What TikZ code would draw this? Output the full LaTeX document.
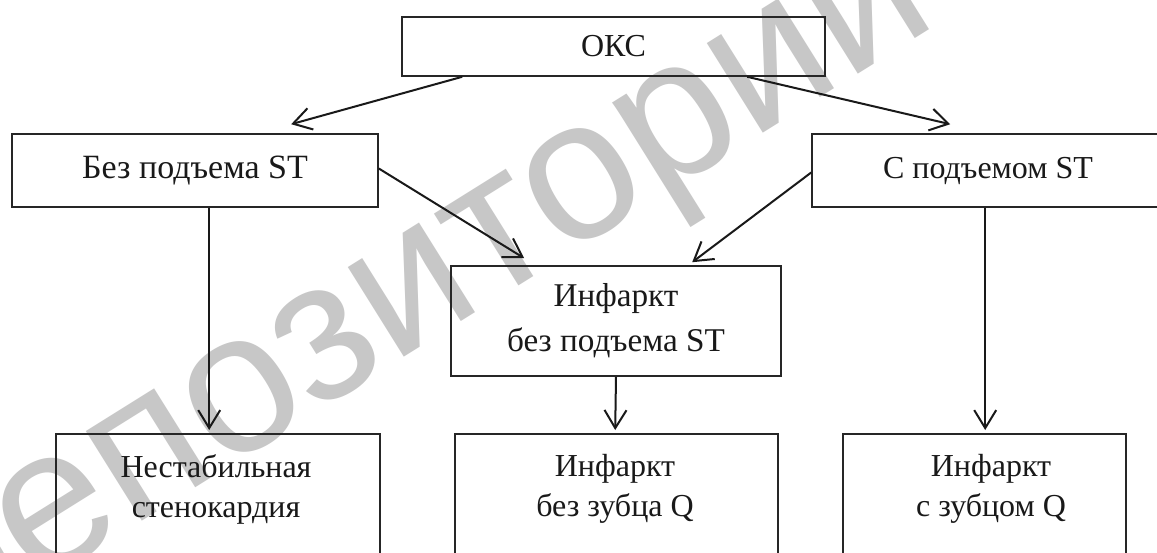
\documentclass[tikz,border=0pt]{standalone}
\usepackage{fontspec}
\setmainfont{Liberation Serif}
\newfontfamily\wmfont{Liberation Sans}
\usetikzlibrary{arrows.meta,calc}
\tikzset{
  box/.style={draw=black!85, line width=0.8pt, rectangle, inner sep=0pt, font=\fontsize{16}{20}\selectfont, text=black!90},
  lbl/.style={inner sep=0pt, align=center, font=\fontsize{16}{20}\selectfont, text=black!90},
  arr/.style={draw=black!90, line width=1pt, -{Straight Barb[length=9pt,width=11pt,line width=1pt]}},
}
\begin{document}
\begin{tikzpicture}[x=0.5pt,y=-0.5pt]
\useasboundingbox (0,0) rectangle (1157,552);
\clip (0,0) rectangle (1157,552);
\fill[white] (0,0) rectangle (1157,552);
% watermark
\node[text=black!22, font=\wmfont\fontsize{100}{100}\selectfont, rotate=32, inner sep=0pt] (wm) at (413,289) {репозиторий};
% boxes (sizes in pt = pixels/2)
\node[box, minimum width=211.5pt, minimum height=29.5pt] (okc) at (613.5,46.5) {ОКС};
\node[box, minimum width=183pt, minimum height=36.5pt, font=\fontsize{17}{20}\selectfont] (bez) at (195,170.5) {Без подъема ST};
\node[box, minimum width=176pt, minimum height=36.5pt] (spod) at (988,170.5) {С подъемом ST};
\node[box, minimum width=165pt, minimum height=55pt, align=center, font=\fontsize{16.6}{22.5}\selectfont] (mid) at (616,321) {Инфаркт\\без подъема ST};
\node[box, minimum width=162pt, minimum height=100pt, anchor=north] (b1) at (218,433) {};
\node[box, minimum width=161.5pt, minimum height=100pt, anchor=north] (b2) at (616.5,433) {};
\node[box, minimum width=141.5pt, minimum height=100pt, anchor=north] (b3) at (984.5,433) {};
\node[lbl] (b1t) at (216,489) {Нестабильная\\стенокардия};
\node[lbl] (b2t) at (615,489) {Инфаркт\\без зубца Q};
\node[lbl] (b3t) at (991,489) {Инфаркт\\с зубцом Q};
% connectors
\draw[arr] ($(okc.south west)+(61,0)$) -- ($(bez.north west)+(280,-9)$);
\draw[arr] ($(okc.south west)+(346,0)$) -- ($(spod.north west)+(139,-9)$);
\draw[arr] ($(bez.east)+(0,-2)$) -- ($(mid.north west)+(74,-7)$);
\draw[arr] ($(spod.west)+(0,2)$) -- ($(mid.north west)+(242,-3)$);
\draw[arr] ($(bez.south west)+(198,0)$) -- ($(b1.north west)+(154,-3)$);
\draw[arr] (mid.south) -- ($(b2.north west)+(161,-3)$);
\draw[arr] ($(spod.south west)+(174,0)$) -- ($(b3.north west)+(143,-3)$);
\end{tikzpicture}
\end{document}
